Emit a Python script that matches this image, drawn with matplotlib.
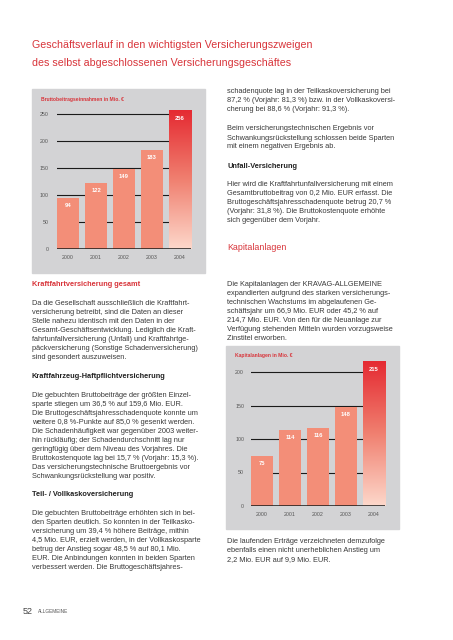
import numpy as np
import matplotlib
matplotlib.use("Agg")
import matplotlib.pyplot as plt
from matplotlib.patches import Rectangle
from matplotlib.colors import LinearSegmentedColormap

W, H = 453, 640

# chart data
years = ["2000", "2001", "2002", "2003", "2004"]
beitraege = [94, 122, 149, 183, 256]
beitraege_ticks = [0, 50, 100, 150, 200, 250]
kapital = [75, 114, 116, 148, 215]
kapital_ticks = [0, 50, 100, 150, 200]

RED = "#d8343a"
TEXT = "#3a3a3a"
PANEL = "#d3d3d5"
SALMON = "#f38e78"
FONT = "Liberation Sans"
BODY = 5.3
LH = 9.0

plt.rcParams["font.family"] = [FONT, "DejaVu Sans"]
fig = plt.figure(figsize=(W / 100, H / 100), dpi=100)


def fx(x):
    return x / W


def fy(y):
    return 1 - y / H


def para(x, y0, lines, **kw):
    for i, line in enumerate(lines):
        fig.text(fx(x), fy(y0 + i * LH), line, fontsize=kw.get("size", BODY),
                 color=kw.get("color", TEXT), weight=kw.get("weight", "normal"),
                 va="center", ha="left")


def bar_chart(panel, axbox, values, ticks, ylim, title, tickpad):
    px0, py0, px1, py1 = panel
    fig.add_artist(Rectangle((fx(px0), fy(py1)), fx(px1 - px0), (py1 - py0) / H,
                             transform=fig.transFigure, color=PANEL, zorder=0))
    fig.text(fx(px0 + 9), fy(py0 + 10), title, fontsize=3.6, color=RED,
             weight="bold", va="center")
    ax = fig.add_axes(axbox)
    ax.set_facecolor("none")
    w = 0.79
    x = np.arange(len(values))
    for t in ticks[1:]:
        ax.axhline(t, color="#1a1a1a", lw=0.8, zorder=1)
    ax.axhline(0, color="#1a1a1a", lw=1.1, zorder=4)
    ax.bar(x[:-1], values[:-1], width=w, color=SALMON, zorder=2)
    cmap = LinearSegmentedColormap.from_list("g", ["#fdd8cb", "#f08070", "#e52a32"])
    grad = np.linspace(0, 1, 256).reshape(-1, 1)
    ax.imshow(grad, cmap=cmap, origin="lower", aspect="auto", zorder=2,
              extent=(x[-1] - w / 2, x[-1] + w / 2, 0, values[-1]))
    for xi, v in zip(x, values):
        ax.annotate(str(v), (xi, v), xytext=(0, -5.5), textcoords="offset points",
                    ha="center", va="center", color="white", fontsize=4.2,
                    weight="bold", zorder=5)
    ax.set_xlim(-w / 2, len(values) - 1 + w / 2)
    ax.set_ylim(*ylim)
    ax.set_xticks(x, years)
    ax.set_yticks(ticks)
    ax.tick_params(length=0, labelsize=3.8, labelcolor="#555555")
    ax.tick_params(axis="x", pad=4.5)
    ax.tick_params(axis="y", pad=tickpad)
    for s in ax.spines.values():
        s.set_visible(False)
    return ax


# header
fig.text(fx(32), fy(45), "Geschäftsverlauf in den wichtigsten Versicherungszweigen",
         fontsize=7.7, color=RED, va="center")
fig.text(fx(32), fy(63), "des selbst abgeschlossenen Versicherungsgeschäftes",
         fontsize=7.7, color=RED, va="center")

# chart 1
bar_chart((32, 89, 205, 273),
          [fx(57), fy(249), fx(191) - fx(57), 140.4 / H],
          beitraege, beitraege_ticks, (0, 260), "Bruttobeitragseinnahmen in Mio. €", 6)

# chart 2
bar_chart((226, 346, 399, 529),
          [fx(251), fy(506), fx(385) - fx(251), 147.4 / H],
          kapital, kapital_ticks, (0, 220), "Kapitalanlagen in Mio. €", 5)

# left column
fig.text(fx(32), fy(284), "Kraftfahrtversicherung gesamt", fontsize=BODY,
         color=RED, weight="bold", va="center")
para(32, 303.3, [
    "Da die Gesellschaft ausschließlich die Kraftfahrt-",
    "versicherung betreibt, sind die Daten an dieser",
    "Stelle nahezu identisch mit den Daten in der",
    "Gesamt-Geschäftsentwicklung. Lediglich die Kraft-",
    "fahrtunfallversicherung (Unfall) und Kraftfahrtge-",
    "päckversicherung (Sonstige Schadenversicherung)",
    "sind gesondert auszuweisen.",
])
fig.text(fx(32), fy(377), "Kraftfahrzeug-Haftpflichtversicherung", fontsize=BODY,
         color="#222222", weight="bold", va="center")
para(32, 395.3, [
    "Die gebuchten Bruttobeiträge der größten Einzel-",
    "sparte stiegen um 36,5 % auf 159,6 Mio. EUR.",
    "Die Bruttogeschäftsjahresschadenquote konnte um",
    "weitere 0,8 %-Punkte auf 85,0 % gesenkt werden.",
    "Die Schadenhäufigkeit war gegenüber 2003 weiter-",
    "hin rückläufig; der Schadendurchschnitt lag nur",
    "geringfügig über dem Niveau des Vorjahres. Die",
    "Bruttokostenquote lag bei 15,7 % (Vorjahr: 15,3 %).",
    "Das versicherungstechnische Bruttoergebnis vor",
    "Schwankungsrückstellung war positiv.",
])
fig.text(fx(32), fy(495), "Teil- / Vollkaskoversicherung", fontsize=BODY,
         color="#222222", weight="bold", va="center")
para(32, 513.3, [
    "Die gebuchten Bruttobeiträge erhöhten sich in bei-",
    "den Sparten deutlich. So konnten in der Teilkasko-",
    "versicherung um 39,4 % höhere Beiträge, mithin",
    "4,5 Mio. EUR, erzielt werden, in der Vollkaskosparte",
    "betrug der Anstieg sogar 48,5 % auf 80,1 Mio.",
    "EUR. Die Anbindungen konnten in beiden Sparten",
    "verbessert werden. Die Bruttogeschäftsjahres-",
])

# right column
para(227, 91.7, [
    "schadenquote lag in der Teilkaskoversicherung bei",
    "87,2 % (Vorjahr: 81,3 %) bzw. in der Vollkaskoversi-",
    "cherung bei 88,6 % (Vorjahr: 91,3 %).",
])
para(227, 129, [
    "Beim versicherungstechnischen Ergebnis vor",
    "Schwankungsrückstellung schlossen beide Sparten",
    "mit einem negativen Ergebnis ab.",
])
fig.text(fx(227), fy(166), "Unfall-Versicherung", fontsize=BODY,
         color="#222222", weight="bold", va="center")
para(227, 184.3, [
    "Hier wird die Kraftfahrtunfallversicherung mit einem",
    "Gesamtbruttobeitrag von 0,2 Mio. EUR erfasst. Die",
    "Bruttogeschäftsjahresschadenquote betrug 20,7 %",
    "(Vorjahr: 31,8 %). Die Bruttokostenquote erhöhte",
    "sich gegenüber dem Vorjahr.",
])
fig.text(fx(227), fy(248), "Kapitalanlagen", fontsize=6.4, color=RED, va="center")
para(227, 284.3, [
    "Die Kapitalanlagen der KRAVAG-ALLGEMEINE",
    "expandierten aufgrund des starken versicherungs-",
    "technischen Wachstums im abgelaufenen Ge-",
    "schäftsjahr um 66,9 Mio. EUR oder 45,2 % auf",
    "214,7 Mio. EUR. Von den für die Neuanlage zur",
    "Verfügung stehenden Mitteln wurden vorzugsweise",
    "Zinstitel erworben.",
])
para(227, 541.7, [
    "Die laufenden Erträge verzeichneten demzufolge",
    "ebenfalls einen nicht unerheblichen Anstieg um",
    "2,2 Mio. EUR auf 9,9 Mio. EUR.",
])

# footer
fig.text(fx(23), fy(611), "52", fontsize=6.5, color="#444444", va="center")
fig.text(fx(38), fy(611.5), "ALLGEMEINE", fontsize=3.4, color="#555555", va="center")

fig.savefig("out.png", dpi=100)
